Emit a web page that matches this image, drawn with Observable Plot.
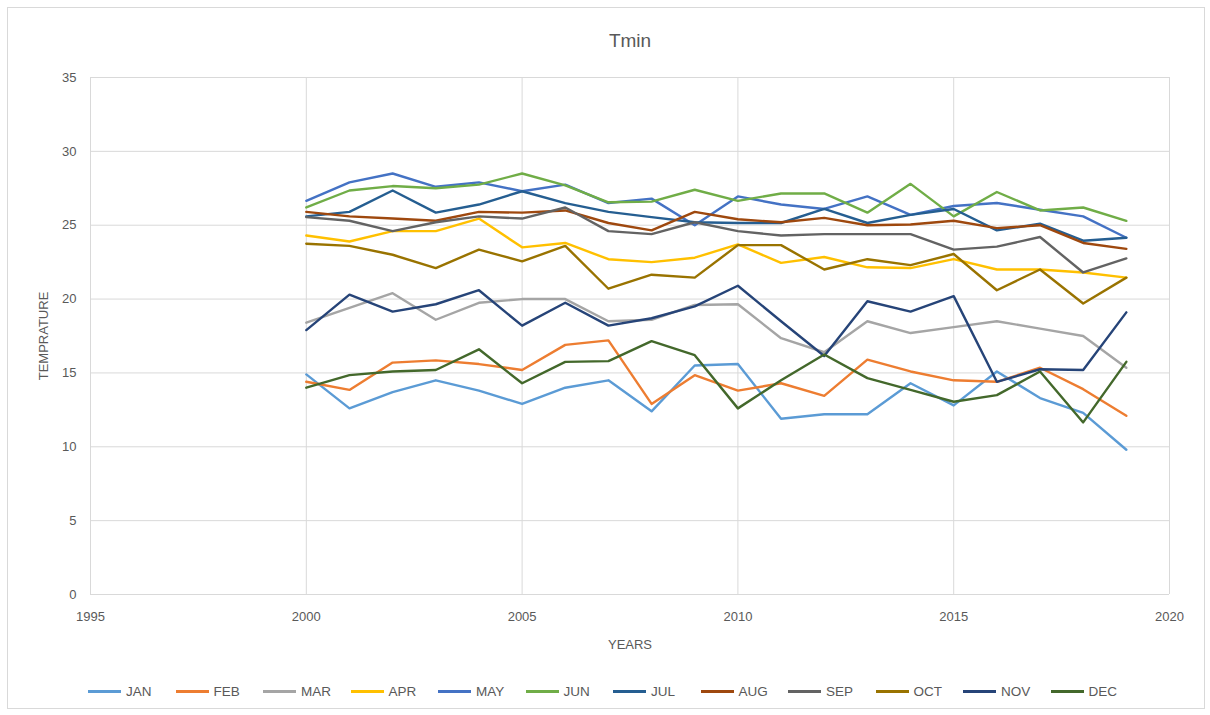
<!DOCTYPE html>
<html>
<head>
<meta charset="utf-8">
<script src="https://cdn.jsdelivr.net/npm/d3@7"></script>
<script src="https://cdn.jsdelivr.net/npm/@observablehq/plot@0.6"></script>
<style>
  html, body { margin: 0; padding: 0; background: #fff; }
  body { width: 1210px; height: 715px; position: relative; overflow: hidden;
         font-family: "Liberation Sans", sans-serif; color: #595959; }
  #frame { position: absolute; left: 7px; top: 7px; width: 1196px; height: 700px; border: 1px solid #d9d9d9; }
  #chart { position: absolute; left: 0; top: 0; }
  #legend { position: absolute; left: 88px; top: 684px; display: flex; font-size: 13.5px; }
  .item { width: 87.5px; display: flex; align-items: center; }
  .sw { width: 33px; height: 3px; margin-right: 5px; }
</style>
</head>
<body>
<div id="frame"></div>
<div id="chart"></div>
<div id="legend"></div>
<script>
const years = [2000,2001,2002,2003,2004,2005,2006,2007,2008,2009,2010,2011,2012,2013,2014,2015,2016,2017,2018,2019];
const months = ["JAN","FEB","MAR","APR","MAY","JUN","JUL","AUG","SEP","OCT","NOV","DEC"];
const colors = ["#5B9BD5","#ED7D31","#A5A5A5","#FFC000","#4472C4","#70AD47","#255E91","#9E480E","#636363","#997300","#264478","#43682B"];
const xTicks = [1995,2000,2005,2010,2015,2020];
const yTicks = [0,5,10,15,20,25,30,35];

const JAN = [14.9,12.6,13.7,14.5,13.8,12.9,14.0,14.5,12.4,15.5,15.6,11.9,12.2,12.2,14.3,12.8,15.1,13.3,12.3,9.8];
const FEB = [14.4,13.85,15.7,15.85,15.6,15.2,16.9,17.2,12.9,14.85,13.8,14.3,13.45,15.9,15.1,14.5,14.4,15.35,13.9,12.1];
const MAR = [18.4,19.4,20.4,18.6,19.75,20.0,20.0,18.5,18.6,19.6,19.65,17.35,16.4,18.5,17.7,18.1,18.5,18.0,17.5,15.35];
const APR = [24.3,23.9,24.6,24.6,25.45,23.5,23.8,22.7,22.5,22.8,23.7,22.45,22.85,22.15,22.1,22.7,22.0,22.0,21.8,21.45];
const MAY = [26.65,27.9,28.5,27.6,27.9,27.3,27.75,26.5,26.8,25.0,26.95,26.4,26.1,26.95,25.7,26.3,26.5,26.05,25.6,24.15];
const JUN = [26.2,27.35,27.65,27.5,27.75,28.5,27.7,26.55,26.6,27.4,26.65,27.15,27.15,25.85,27.8,25.6,27.25,26.0,26.2,25.3];
const JUL = [25.6,25.9,27.35,25.85,26.4,27.3,26.5,25.9,25.55,25.2,25.15,25.15,26.1,25.15,25.7,26.1,24.65,25.1,23.95,24.15];
const AUG = [25.9,25.6,25.45,25.3,25.9,25.85,26.0,25.15,24.65,25.9,25.4,25.2,25.5,25.0,25.05,25.3,24.8,25.0,23.8,23.4];
const SEP = [25.55,25.3,24.6,25.2,25.6,25.45,26.2,24.6,24.4,25.2,24.6,24.3,24.4,24.4,24.4,23.35,23.55,24.2,21.8,22.75];
const OCT = [23.75,23.6,23.0,22.1,23.35,22.55,23.6,20.7,21.65,21.45,23.65,23.65,22.0,22.7,22.3,23.05,20.6,22.0,19.7,21.45];
const NOV = [17.9,20.3,19.15,19.65,20.6,18.2,19.75,18.2,18.7,19.5,20.9,18.5,16.15,19.85,19.15,20.2,14.4,15.25,15.2,19.1];
const DEC = [14.0,14.85,15.1,15.2,16.6,14.3,15.75,15.8,17.15,16.2,12.6,14.5,16.25,14.65,13.85,13.05,13.5,15.1,11.65,15.75];

const series = [JAN,FEB,MAR,APR,MAY,JUN,JUL,AUG,SEP,OCT,NOV,DEC];
const rows = [];
series.forEach((vals, i) => vals.forEach((v, j) => rows.push({month: months[i], year: years[j], value: v})));

const chart = Plot.plot({
  width: 1210,
  height: 660,
  marginTop: 77,
  marginBottom: 66,
  marginLeft: 90,
  marginRight: 41,
  style: {fontFamily: "'Liberation Sans', sans-serif", fontSize: "13px", color: "#595959", background: "transparent"},
  x: {domain: [1995, 2020]},
  y: {domain: [0, 35]},
  color: {domain: months, range: colors},
  marks: [
    Plot.gridX(xTicks, {stroke: "#d9d9d9", strokeOpacity: 1, strokeWidth: 1}),
    Plot.gridY(yTicks, {stroke: "#d9d9d9", strokeOpacity: 1, strokeWidth: 1}),
    Plot.axisX({ticks: xTicks, tickFormat: "d", tickSize: 0, tickPadding: 17, label: "YEARS", labelAnchor: "center", labelOffset: 54, labelArrow: "none", fontSize: 13}),
    Plot.axisY({ticks: yTicks, tickSize: 0, tickPadding: 14, label: "TEMPRATURE", labelAnchor: "center", labelOffset: 52, labelArrow: "none", fontSize: 13}),
    Plot.line(rows, {x: "year", y: "value", z: "month", stroke: "month", strokeWidth: 2.4, strokeLinejoin: "round"}),
    Plot.text(["Tmin"], {frameAnchor: "top", lineAnchor: "middle", dy: -37, fontSize: 19, fill: "#595959"})
  ]
});
document.getElementById("chart").appendChild(chart);

const legend = document.getElementById("legend");
months.forEach((m, i) => {
  const it = document.createElement("div");
  it.className = "item";
  const sw = document.createElement("div");
  sw.className = "sw";
  sw.style.background = colors[i];
  const t = document.createElement("span");
  t.textContent = m;
  it.appendChild(sw);
  it.appendChild(t);
  legend.appendChild(it);
});
</script>
</body>
</html>
